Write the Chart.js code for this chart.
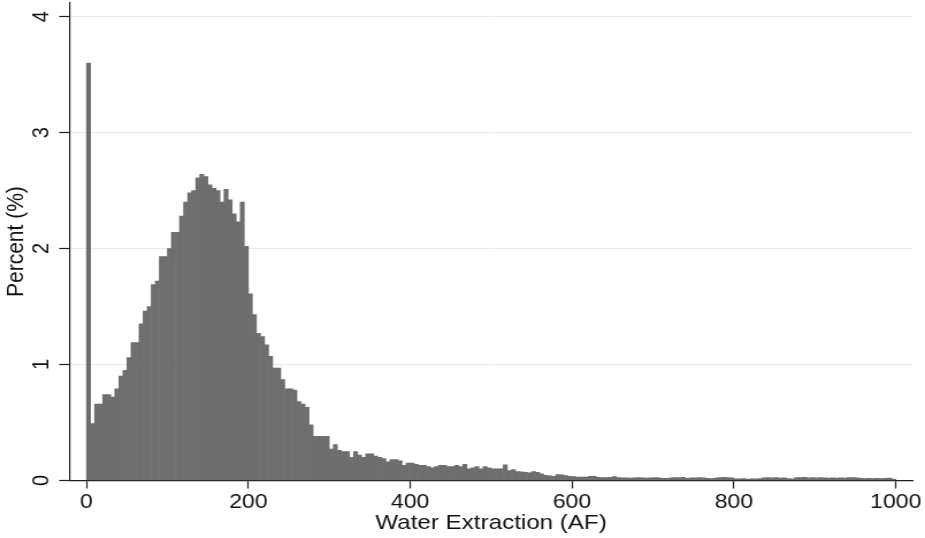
<!DOCTYPE html>
<html>
<head>
<meta charset="utf-8">
<title>Water Extraction histogram</title>
<script src="https://cdn.jsdelivr.net/npm/chart.js@4/dist/chart.umd.min.js"></script>
<style>
  html, body { margin: 0; padding: 0; background: #fff; overflow: hidden; }
  /* the graph is laid out on a narrower canvas and widened horizontally */
  #wrap { width: 804px; height: 538px; transform: scaleX(1.1505); transform-origin: 0 0; }
</style>
</head>
<body>
<div id="wrap"><canvas id="hist" width="804" height="538"></canvas></div>
<script>
// Histogram bins: width 5 AF, from 0 to 1000 AF
const BIN_WIDTH = 5;

// Percent of observations in each bin (200 bins)
const percent = [
  3.60, 0.49, 0.66, 0.66, 0.74, 0.74, 0.72, 0.79, 0.90, 0.95,
  1.06, 1.19, 1.19, 1.35, 1.46, 1.50, 1.69, 1.72, 1.93, 1.93,
  2.00, 2.14, 2.14, 2.28, 2.40, 2.48, 2.50, 2.61, 2.64, 2.62,
  2.55, 2.52, 2.50, 2.40, 2.51, 2.42, 2.30, 2.23, 2.40, 2.02,
  1.61, 1.43, 1.27, 1.24, 1.17, 1.07, 0.97, 0.97, 0.87, 0.79,
  0.79, 0.78, 0.68, 0.66, 0.63, 0.48, 0.38, 0.38, 0.38, 0.38,
  0.27, 0.31, 0.26, 0.25, 0.25, 0.20, 0.25, 0.22, 0.20, 0.23,
  0.23, 0.21, 0.20, 0.19, 0.16, 0.18, 0.18, 0.17, 0.13, 0.15,
  0.15, 0.14, 0.13, 0.13, 0.12, 0.11, 0.12, 0.13, 0.13, 0.12,
  0.12, 0.13, 0.12, 0.14, 0.10, 0.11, 0.12, 0.10, 0.12, 0.11,
  0.10, 0.10, 0.10, 0.135, 0.085, 0.095, 0.076, 0.075, 0.070, 0.066,
  0.077, 0.070, 0.057, 0.045, 0.040, 0.037, 0.050, 0.048, 0.043, 0.037,
  0.034, 0.030, 0.029, 0.029, 0.035, 0.035, 0.027, 0.026, 0.026, 0.027,
  0.033, 0.025, 0.023, 0.022, 0.021, 0.023, 0.025, 0.023, 0.020, 0.024,
  0.026, 0.022, 0.019, 0.018, 0.024, 0.025, 0.025, 0.027, 0.018, 0.022,
  0.024, 0.026, 0.024, 0.018, 0.016, 0.020, 0.026, 0.027, 0.025, 0.022,
  0.015, 0.014, 0.016, 0.013, 0.015, 0.014, 0.017, 0.024, 0.026, 0.022,
  0.025, 0.021, 0.024, 0.016, 0.014, 0.026, 0.025, 0.027, 0.024, 0.026,
  0.023, 0.025, 0.022, 0.020, 0.023, 0.021, 0.022, 0.020, 0.025, 0.026,
  0.022, 0.018, 0.017, 0.019, 0.016, 0.018, 0.017, 0.019, 0.020, 0.012
];

// Axis tick values
const xTicks = [0, 200, 400, 600, 800, 1000];
const yTicks = [0, 1, 2, 3, 4];

const xTitle = 'Water Extraction (AF)';
const yTitle = 'Percent (%)';

// bin centres on the AF axis
const binCenters = percent.map((_, i) => i * BIN_WIDTH + BIN_WIDTH / 2);

const FONT = "'Liberation Sans', Arial, Helvetica, sans-serif";
const INK = '#111111';
const AXIS = '#1e1e1e';

new Chart(document.getElementById('hist'), {
  type: 'bar',
  data: {
    datasets: [{
      data: binCenters.map((x, i) => ({ x: x, y: percent[i] })),
      backgroundColor: '#6e6e6e',
      borderWidth: 0,
      barPercentage: 1,
      categoryPercentage: 1
    }]
  },
  options: {
    responsive: false,
    devicePixelRatio: 1,
    animation: false,
    layout: { padding: { top: 2.7, right: 10.7, bottom: 0, left: 0 } },
    plugins: { legend: { display: false }, tooltip: { enabled: false } },
    scales: {
      x: {
        type: 'linear',
        min: -21,
        max: 1021,
        offset: false,
        afterBuildTicks: s => { s.ticks = xTicks.map(v => ({ value: v })); },
        afterFit: s => { s.height = 57.5; s.paddingLeft = 0; s.paddingRight = 0; },
        grid: { offset: false, drawOnChartArea: false, drawTicks: true, tickLength: 8,
                tickColor: AXIS, tickWidth: 1.2 },
        border: { display: true, color: AXIS, width: 1.2 },
        ticks: { font: { family: FONT, size: 20 }, color: INK, padding: 2.4, maxRotation: 0,
                 autoSkip: false, callback: v => String(v) },
        title: { display: true, text: xTitle, color: INK,
                 font: { family: FONT, size: 21, lineHeight: 1 }, padding: { top: 0, bottom: 4.5 } }
      },
      y: {
        type: 'linear',
        min: 0,
        max: 4.12,
        afterBuildTicks: s => { s.ticks = yTicks.map(v => ({ value: v })); },
        afterFit: s => { s.width = 60.4; s.paddingTop = 0; s.paddingBottom = 0; },
        grid: { offset: false, color: '#e3ecec', lineWidth: 1, drawTicks: true, tickLength: 9,
                tickColor: AXIS, tickWidth: 1.2 },
        border: { display: true, color: AXIS, width: 1.2 },
        ticks: { font: { family: FONT, size: 20 }, color: INK, minRotation: 90, maxRotation: 90,
                 crossAlign: 'center', padding: 9.8, callback: v => String(v) },
        title: { display: true, text: yTitle, color: INK,
                 font: { family: FONT, size: 21, lineHeight: 1 }, padding: { top: 4, bottom: 0 } }
      }
    }
  }
});
</script>
</body>
</html>
